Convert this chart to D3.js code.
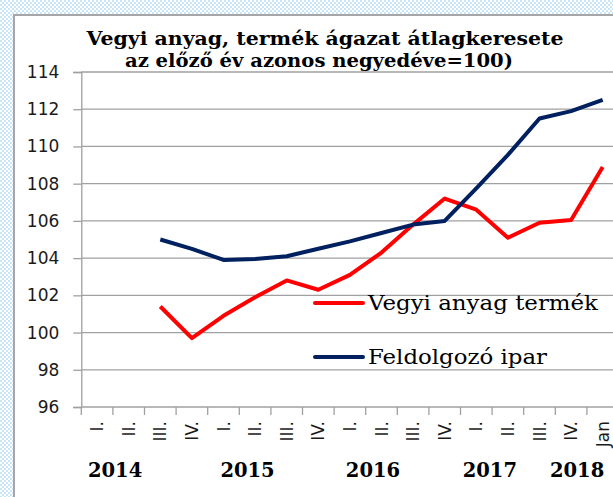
<!DOCTYPE html>
<html>
<head>
<meta charset="utf-8">
<script src="https://cdn.jsdelivr.net/npm/d3@7"></script>
<style>
  body { margin: 0; padding: 0; overflow: hidden; }
  svg { display: block; }
</style>
</head>
<body>
<div id="chart"></div>
<script>
// Quarters from 2014 Q1 to 2018 January
var categories = ["I.", "II.", "III.", "IV.", "I.", "II.", "III.", "IV.",
    "I.", "II.", "III.", "IV.", "I.", "II.", "III.", "IV.", "Jan"];
var years = ["2014", "2015", "2016", "2017", "2018"];
var vegyiValues = [null, null, 101.4, 99.7, 100.9, 101.9, 102.8, 102.3,
    103.1, 104.3, 105.8, 107.2, 106.6, 105.1, 105.9, 106.05, 108.9];
var feldolgozoValues = [null, null, 105.0, 104.5, 103.9, 103.95, 104.1, 104.5,
    104.9, 105.35, 105.8, 106.0, 107.75, 109.55, 111.5, 111.9, 112.5];
var yTicks = [96, 98, 100, 102, 104, 106, 108, 110, 112, 114];
var titleLines = ["Vegyi anyag, termék ágazat átlagkeresete", "az előző év azonos negyedéve=100)"];
var seriesNames = ["Vegyi anyag termék", "Feldolgozó ipar"];

function createChart() {
    var width = 613, height = 497;
    var left = 81.3, right = 618.5, top = 72, bottom = 407;

    var svg = d3.select("#chart").append("svg")
        .attr("width", width)
        .attr("height", height);

    // checkered light blue background
    var pat = svg.append("defs").append("pattern")
        .attr("id", "chk")
        .attr("width", 4).attr("height", 4)
        .attr("patternUnits", "userSpaceOnUse");
    pat.append("rect").attr("width", 4).attr("height", 4).attr("fill", "#ffffff");
    pat.append("rect").attr("width", 2).attr("height", 2).attr("fill", "#c9e6f8");
    pat.append("rect").attr("x", 2).attr("y", 2).attr("width", 2).attr("height", 2).attr("fill", "#c9e6f8");

    svg.append("rect").attr("width", width).attr("height", height).attr("fill", "url(#chk)");
    svg.append("rect")
        .attr("x", 14).attr("y", 15)
        .attr("width", 700).attr("height", 600)
        .attr("fill", "#ffffff")
        .attr("stroke", "#a6a6a6")
        .attr("stroke-width", 2);

    var x = d3.scaleBand()
        .domain(d3.range(categories.length))
        .range([left, right])
        .padding(0);

    var y = d3.scaleLinear()
        .domain([96, 114])
        .range([bottom, top]);

    // grid lines
    svg.append("g").selectAll("line")
        .data(yTicks.slice(1))
        .enter().append("line")
        .attr("x1", left).attr("x2", width)
        .attr("y1", function (d) { return y(d); })
        .attr("y2", function (d) { return y(d); })
        .attr("stroke", "#a0a0a0")
        .attr("stroke-width", 1.3);

    // y axis
    var yAxis = d3.axisLeft(y)
        .tickValues(yTicks)
        .tickSize(8)
        .tickPadding(14)
        .tickFormat(d3.format("d"));

    var gy = svg.append("g")
        .attr("transform", "translate(" + left + ",0)")
        .call(yAxis);
    gy.select(".domain").attr("stroke", "#a0a0a0").attr("stroke-width", 1.3);
    gy.selectAll(".tick line").attr("stroke", "#a0a0a0").attr("stroke-width", 1.3);
    gy.selectAll(".tick text")
        .attr("font-family", "DejaVu Sans")
        .attr("font-size", "17px")
        .attr("fill", "#1a1a1a");

    // x axis: line, boundary ticks, rotated labels
    svg.append("line")
        .attr("x1", left).attr("x2", width)
        .attr("y1", bottom).attr("y2", bottom)
        .attr("stroke", "#a0a0a0").attr("stroke-width", 1.3);

    svg.append("g").selectAll("line")
        .data(d3.range(categories.length + 1))
        .enter().append("line")
        .attr("x1", function (d) { return left + d * x.step(); })
        .attr("x2", function (d) { return left + d * x.step(); })
        .attr("y1", bottom).attr("y2", bottom + 8)
        .attr("stroke", "#a0a0a0").attr("stroke-width", 1.3);

    svg.append("g").selectAll("text")
        .data(categories)
        .enter().append("text")
        .attr("transform", function (d, i) {
            return "translate(" + (x(i) + x.bandwidth() / 2) + "," + (bottom + 14) + ") rotate(-90)";
        })
        .attr("text-anchor", "end")
        .attr("dy", "0.36em")
        .attr("font-family", "DejaVu Sans")
        .attr("font-size", "17px")
        .attr("fill", "#1a1a1a")
        .text(function (d) { return d; });

    // year labels (position in band units along the axis)
    var yearPos = [1.07, 5.26, 9.23, 12.93, 15.69];
    svg.append("g").selectAll("text")
        .data(years)
        .enter().append("text")
        .attr("x", function (d, i) { return left + yearPos[i] * x.step(); })
        .attr("y", 477)
        .attr("text-anchor", "middle")
        .attr("font-family", "DejaVu Serif")
        .attr("font-weight", "bold")
        .attr("font-size", "19.5px")
        .attr("fill", "#000")
        .text(function (d) { return d; });

    // title
    var titleWidths = [477, 388];
    svg.append("g").selectAll("text")
        .data(titleLines)
        .enter().append("text")
        .attr("x", function (d, i) { return 323 - titleWidths[i] / 2 + (i ? -4 : 2); })
        .attr("y", function (d, i) { return 45 + i * 22; })
        .attr("textLength", function (d, i) { return titleWidths[i]; })
        .attr("lengthAdjust", "spacingAndGlyphs")
        .attr("font-family", "DejaVu Serif")
        .attr("font-weight", "bold")
        .attr("font-size", "18px")
        .attr("fill", "#000")
        .text(function (d) { return d; });

    // lines
    var line = d3.line()
        .defined(function (d) { return d != null; })
        .x(function (d, i) { return x(i) + x.bandwidth() / 2; })
        .y(function (d) { return y(d); });

    var series = [
        { name: seriesNames[0], values: vegyiValues, color: "#ff0000" },
        { name: seriesNames[1], values: feldolgozoValues, color: "#002060" }
    ];

    svg.append("g").selectAll("path")
        .data(series)
        .enter().append("path")
        .attr("d", function (d) { return line(d.values); })
        .attr("fill", "none")
        .attr("stroke", function (d) { return d.color; })
        .attr("stroke-width", 4)
        .attr("stroke-linejoin", "round");

    // legend
    var legendWidths = [230, 179];
    var legend = svg.append("g").selectAll("g")
        .data(series)
        .enter().append("g")
        .attr("transform", function (d, i) { return "translate(315," + (303 + i * 54) + ")"; });

    legend.append("line")
        .attr("x1", 0).attr("x2", 48)
        .attr("stroke", function (d) { return d.color; })
        .attr("stroke-width", 4)
        .attr("stroke-linecap", "round");

    legend.append("text")
        .attr("x", 53)
        .attr("dy", "0.35em")
        .attr("textLength", function (d, i) { return legendWidths[i]; })
        .attr("lengthAdjust", "spacingAndGlyphs")
        .attr("font-family", "DejaVu Serif")
        .attr("font-size", "21px")
        .attr("fill", "#000")
        .text(function (d) { return d.name; });
}

createChart();
</script>
</body>
</html>
